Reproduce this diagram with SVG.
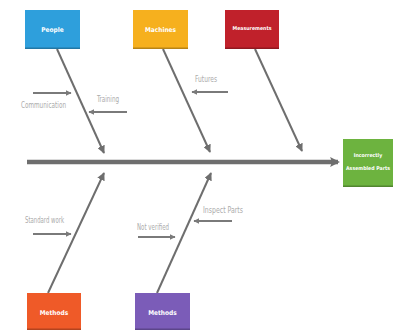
<svg xmlns="http://www.w3.org/2000/svg" width="398" height="331" viewBox="0 0 398 331">
<defs>
<style>
.box{stroke:none}
.lbl{font-family:"Liberation Sans Narrow","DejaVu Sans Condensed","Liberation Sans",sans-serif;font-size:6.5px;fill:#ffffff;text-anchor:middle;font-weight:bold}
.sm{font-size:5.2px}
.cause{font-family:"Liberation Sans Narrow","DejaVu Sans Condensed","Liberation Sans",sans-serif;font-size:8px;fill:#ababab}
.bone{stroke:#6e6e6e;stroke-width:2;fill:none;marker-end:url(#ah)}
.sub{stroke:#7a7a7a;stroke-width:2;fill:none;marker-end:url(#sh)}
.shade{fill:#000;opacity:0.25}
</style>
<marker id="ah" viewBox="0 0 10 10" refX="9" refY="5" markerWidth="4" markerHeight="4" orient="auto"><path d="M0,0 L10,5 L0,10 z" fill="#6e6e6e"/></marker>
<marker id="sh" viewBox="0 0 10 10" refX="9" refY="5" markerWidth="3" markerHeight="3" orient="auto"><path d="M0,0 L10,5 L0,10 z" fill="#7a7a7a"/></marker>
<marker id="big" viewBox="0 0 10 10" refX="8" refY="5" markerWidth="2.2" markerHeight="2.6" orient="auto"><path d="M0,0 L10,5 L0,10 L2,5 z" fill="#6e6e6e"/></marker>
</defs>
<rect width="398" height="331" fill="#ffffff"/>
<g id="connectors">
<line x1="27" y1="162" x2="338" y2="162" stroke="#6e6e6e" stroke-width="4.5" marker-end="url(#big)"/>
<line class="bone" x1="57" y1="49" x2="104" y2="153"/>
<line class="bone" x1="163" y1="49" x2="210" y2="152"/>
<line class="bone" x1="255" y1="49" x2="302" y2="151"/>
<line class="bone" x1="48" y1="293" x2="104" y2="173"/>
<line class="bone" x1="157" y1="293" x2="211" y2="173"/>
<line class="sub" x1="33" y1="93" x2="71" y2="93"/>
<line class="sub" x1="127" y1="112" x2="89" y2="112"/>
<line class="sub" x1="228" y1="92" x2="192" y2="92"/>
<line class="sub" x1="33" y1="234" x2="71" y2="234"/>
<line class="sub" x1="138" y1="237" x2="175" y2="237"/>
<line class="sub" x1="232" y1="221" x2="194" y2="221"/>
</g>
<g id="people">
<rect class="box" x="25" y="10" width="55" height="39" fill="#2e9fdc"/>
<rect class="shade" x="25" y="47.5" width="55" height="1.5"/>
<text class="lbl" x="52.5" y="31.5">People</text>
</g>
<g id="machines">
<rect class="box" x="133" y="10" width="55" height="39" fill="#f6b01e"/>
<rect class="shade" x="133" y="47.5" width="55" height="1.5"/>
<text class="lbl" x="160.5" y="31.5">Machines</text>
</g>
<g id="measurements">
<rect class="box" x="225" y="10" width="54" height="39" fill="#c0212b"/>
<rect class="shade" x="225" y="47.5" width="54" height="1.5"/>
<text class="lbl sm" x="252" y="29.5">Measurements</text>
</g>
<g id="effect">
<rect class="box" x="343" y="139" width="50" height="48" fill="#6db33f"/>
<rect class="shade" x="343" y="185.5" width="50" height="1.5"/>
<text class="lbl sm" x="368" y="157">Incorrectly</text>
<text class="lbl sm" x="368" y="170">Assembled Parts</text>
</g>
<g id="methods1">
<rect class="box" x="27" y="293" width="54" height="37" fill="#ef5a28"/>
<rect class="shade" x="27" y="328.5" width="54" height="1.5"/>
<text class="lbl" x="54" y="315">Methods</text>
</g>
<g id="methods2">
<rect class="box" x="135" y="293" width="55" height="37" fill="#7b5cb8"/>
<rect class="shade" x="135" y="328.5" width="55" height="1.5"/>
<text class="lbl" x="162.5" y="315">Methods</text>
</g>
<g id="labels">
<text class="cause" x="21" y="108" textLength="45" lengthAdjust="spacingAndGlyphs">Communication</text>
<text class="cause" x="97" y="102" textLength="22" lengthAdjust="spacingAndGlyphs">Training</text>
<text class="cause" x="195" y="82" textLength="22" lengthAdjust="spacingAndGlyphs">Futures</text>
<text class="cause" x="25" y="223" textLength="39" lengthAdjust="spacingAndGlyphs">Standard work</text>
<text class="cause" x="137" y="230" textLength="32" lengthAdjust="spacingAndGlyphs">Not verified</text>
<text class="cause" x="203" y="213" textLength="40" lengthAdjust="spacingAndGlyphs">Inspect Parts</text>
</g>
</svg>
